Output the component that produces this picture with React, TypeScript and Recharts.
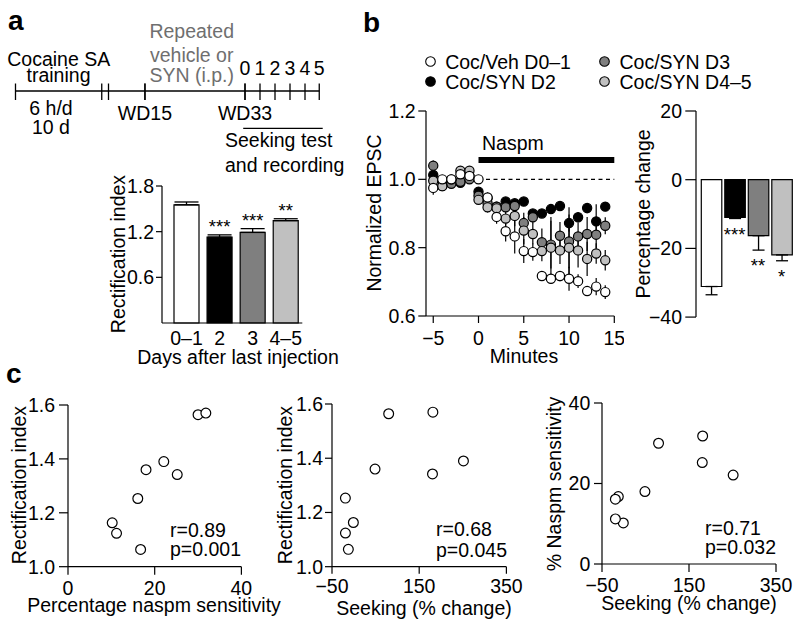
import React from "react";
import {
  ComposedChart,
  ScatterChart,
  Bar,
  Line,
  Scatter,
  XAxis,
  YAxis,
  ErrorBar,
  ReferenceLine,
  LabelList,
  Legend,
  Cell,
} from "recharts";

const FONT = "'Liberation Sans', Arial, Helvetica, sans-serif";
const FS = 19.5;
const INK = "#000";
const GREY_TEXT = "#6f6f6f";

// ---- a: schematic timeline (units = days relative to WD33)
const timelineMarks = [-15.3, -9.55, -9.1, -6.67, 0, 1, 2, 3, 4, 4.95];
const timelineTop = ["", "", "", "", "0", "1", "2", "3", "4", "5"];
const timelineBottom = ["", "", "", "WD15", "WD33", "", "", "", "", ""];
const seekingSpan = [-0.12, 5.18];

// ---- groups
const groupNames = ["Coc/Veh D0–1", "Coc/SYN D2", "Coc/SYN D3", "Coc/SYN D4–5"];
const groupFill = ["#ffffff", "#000000", "#7f7f7f", "#c0c0c0"];

// ---- a: rectification index by day
const dayCats = ["0–1", "2", "3", "4–5"];
const riMean = [1.553, 1.128, 1.19, 1.345];
const riErr = [0.037, 0.03, 0.05, 0.025];
const riSig = ["", "***", "***", "**"];

// ---- b: normalized EPSC time course
const minutes = [-5, -4, -3, -2, -1, 0, 1, 2, 3, 4, 5, 6, 7, 8, 9, 10, 11, 12, 13, 14];
const vehMean = [0.975, 1.0, 1.0, 1.015, 1.01, 1.0, 0.947, 0.89, 0.848, 0.833, 0.79, 0.787, 0.717, 0.709, 0.717, 0.709, 0.702, 0.673, 0.686, 0.67];
const vehErr = [0.02, 0.01, 0.01, 0.01, 0.01, 0.005, 0.015, 0.02, 0.03, 0.05, 0.035, 0.025, 0.01, 0.015, 0.015, 0.035, 0.02, 0.01, 0.025, 0.02];
const d2Mean = [1.013, 0.995, 0.99, 0.99, 1.01, 0.964, 0.945, 0.92, 0.935, 0.93, 0.935, 0.9, 0.9, 0.913, 0.922, 0.872, 0.889, 0.916, 0.877, 0.92];
const d2Err = [0.02, 0.01, 0.01, 0.01, 0.01, 0.01, 0.01, 0.01, 0.01, 0.01, 0.01, 0.01, 0.01, 0.01, 0.01, 0.025, 0.015, 0.015, 0.05, 0.01];
const d3Mean = [1.04, 0.98, 0.987, 0.993, 1.0, 0.952, 0.93, 0.92, 0.918, 0.922, 0.872, 0.889, 0.816, 0.809, 0.835, 0.818, 0.833, 0.84, 0.838, 0.864];
const d3Err = [0.015, 0.01, 0.01, 0.01, 0.01, 0.01, 0.01, 0.01, 0.015, 0.015, 0.03, 0.02, 0.04, 0.07, 0.04, 0.1, 0.04, 0.05, 0.04, 0.025];
const d45Mean = [0.996, 0.98, 1.0, 1.025, 1.025, 0.94, 0.918, 0.915, 0.885, 0.893, 0.85, 0.84, 0.79, 0.8, 0.792, 0.8, 0.792, 0.767, 0.783, 0.763];
const d45Err = [0.02, 0.01, 0.01, 0.01, 0.01, 0.01, 0.015, 0.015, 0.02, 0.03, 0.04, 0.03, 0.03, 0.09, 0.04, 0.06, 0.05, 0.05, 0.03, 0.03];
const naspmLevel = 1.0565;

// ---- b: percentage change
const pctMean = [-31.1, -11.0, -16.3, -21.9];
const pctErr = [2.4, 0.3, 4.2, 1.7];
const pctSig = ["", "***", "**", "*"];

// ---- c: per-animal correlations
const naspmSens = [10.2, 11.2, 16.75, 16.1, 18.0, 22.1, 25.2, 30.0, 31.8];
const rectIdx = [1.163, 1.124, 1.064, 1.253, 1.36, 1.39, 1.342, 1.564, 1.57];
const seeking = [-1, -19.2, -12.5, -19.3, 48.7, 251.5, 180.5, 80, 181.4];

const tickFont = { fontSize: FS, fill: INK, fontFamily: FONT };
const axisStroke = { stroke: INK, strokeWidth: 1.2 };
const minus = (v: number) => String(v).replace("-", "\u2212");
const oneDec = (v: number) => v.toFixed(1);

const ring = (r: number, fill: string) => (p: any) => (
  <circle cx={p.cx} cy={p.cy} r={r} fill={fill} stroke={INK} strokeWidth={1.2} />
);

function Txt({ x, y, children, anchor = "start", size = FS, weight = 400, fill = INK }: any) {
  return (
    <text x={x} y={y} textAnchor={anchor} fontSize={size} fontWeight={weight} fill={fill} fontFamily={FONT}>
      {children}
    </text>
  );
}

function VTxt({ x, y, children }: any) {
  return (
    <text
      transform={`translate(${x},${y}) rotate(-90)`}
      textAnchor="middle"
      dominantBaseline="central"
      fontSize={FS}
      fill={INK}
      fontFamily={FONT}
    >
      {children}
    </text>
  );
}

function GroupLegend() {
  const order = [0, 2, 1, 3];
  return (
    <div
      style={{
        display: "grid",
        gridTemplateColumns: "174.3px 190px",
        fontFamily: FONT,
        fontSize: FS,
        lineHeight: "20px",
        whiteSpace: "nowrap",
        color: INK,
      }}
    >
      {order.map((i) => (
        <div key={i} style={{ display: "flex", alignItems: "center", height: 20 }}>
          <svg width={11} height={11} style={{ marginRight: 9, flex: "none" }}>
            <circle cx={5.5} cy={5.5} r={4.8} fill={groupFill[i]} stroke={INK} strokeWidth={1.1} />
          </svg>
          <span>{groupNames[i]}</span>
        </div>
      ))}
    </div>
  );
}

function Timeline() {
  const line = timelineMarks.map((x) => ({ x, y: 0 }));
  const lbl = { fontSize: FS, fill: INK, fontFamily: FONT };
  return (
    <ComposedChart width={340} height={80} data={line} margin={{ top: 0, right: 0, bottom: 0, left: 0 }}>
      <XAxis dataKey="x" type="number" domain={[-16.333, 6.333]} hide />
      <YAxis type="number" domain={[-3, 2.333]} hide />
      <Line dataKey="y" stroke={INK} strokeWidth={1.3} dot={false} activeDot={false} isAnimationActive={false} />
      {timelineMarks.map((x, i) => (
        <ReferenceLine
          key={"t" + i}
          segment={[{ x, y: 0.5 }, { x, y: -0.6 }]}
          stroke={INK}
          strokeWidth={1.3}
          label={timelineTop[i] ? { value: timelineTop[i], position: "top", offset: 8, ...lbl } : undefined}
        />
      ))}
      {timelineMarks.map((x, i) =>
        timelineBottom[i] ? (
          <ReferenceLine
            key={"b" + i}
            segment={[{ x, y: 0.5 }, { x, y: -0.6 }]}
            stroke={INK}
            strokeWidth={1.3}
            label={{ value: timelineBottom[i], position: "bottom", offset: 6, ...lbl }}
          />
        ) : null
      )}
      <ReferenceLine
        segment={[{ x: seekingSpan[0], y: -2.49 }, { x: seekingSpan[1], y: -2.49 }]}
        stroke={INK}
        strokeWidth={1.2}
      />
    </ComposedChart>
  );
}

function RectBars() {
  const data = dayCats.map((c, i) => ({
    cat: c,
    v: riMean[i],
    e: [0, riErr[i]],
    top: riMean[i] + riErr[i],
    sig: riSig[i],
  }));
  return (
    <ComposedChart width={200.3} height={177} data={data} margin={{ top: 10, right: 5, bottom: 0, left: 0 }}>
      <XAxis
        dataKey="cat"
        interval={0}
        height={30}
        padding={{ left: 8, right: 0 }}
        tick={tickFont}
        tickLine={false}
        tickSize={6}
        tickMargin={2}
        axisLine={axisStroke}
      />
      <YAxis
        width={55}
        type="number"
        domain={[0, 1.8]}
        ticks={[0.6, 1.2, 1.8]}
        interval={0}
        tickFormatter={oneDec}
        tick={tickFont}
        tickLine={axisStroke}
        axisLine={axisStroke}
        tickSize={6}
        tickMargin={2}
      />
      <Bar dataKey="v" barSize={25} stroke={INK} strokeWidth={1.2} isAnimationActive={false}>
        {data.map((d, i) => (
          <Cell key={i} fill={groupFill[i]} />
        ))}
        <ErrorBar dataKey="e" direction="y" width={12} stroke={INK} strokeWidth={1.3} />
      </Bar>
      <Line dataKey="top" stroke="none" dot={false} activeDot={false} isAnimationActive={false}>
        <LabelList dataKey="sig" position="top" offset={2} style={{ fontSize: 18.5, fill: INK, fontFamily: FONT }} />
      </Line>
    </ComposedChart>
  );
}

function EpscTimeCourse() {
  const series = [
    { mean: d2Mean, err: d2Err, g: 1 },
    { mean: d3Mean, err: d3Err, g: 2 },
    { mean: d45Mean, err: d45Err, g: 3 },
    { mean: vehMean, err: vehErr, g: 0 },
  ];
  return (
    <ScatterChart width={253.3} height={316} margin={{ top: 71, right: 10, bottom: 0, left: 0 }}>
      <XAxis
        dataKey="t"
        type="number"
        domain={[-5.8, 15]}
        ticks={[-5, 0, 5, 10, 15]}
        interval={0}
        tickFormatter={minus}
        height={40}
        tick={tickFont}
        tickLine={axisStroke}
        axisLine={axisStroke}
        tickSize={7}
        tickMargin={8.3}
      />
      <YAxis
        dataKey="v"
        type="number"
        width={55}
        domain={[0.6, 1.2]}
        ticks={[0.6, 0.8, 1.0, 1.2]}
        interval={0}
        tickFormatter={oneDec}
        tick={tickFont}
        tickLine={axisStroke}
        axisLine={axisStroke}
        tickSize={7.7}
        tickMargin={2.6}
      />
      <ReferenceLine segment={[{ x: 0, y: 1 }, { x: 15, y: 1 }]} stroke={INK} strokeWidth={1.2} strokeDasharray="4 3.5" />
      <ReferenceLine
        segment={[{ x: 0, y: naspmLevel }, { x: 15, y: naspmLevel }]}
        stroke={INK}
        strokeWidth={6}
        label={(p: any) => (
          <text x={p.viewBox.x + 3.5} y={p.viewBox.y - 10} fontSize={FS} fill={INK} fontFamily={FONT}>
            Naspm
          </text>
        )}
      />
      {series.map((s) => (
        <Scatter
          key={s.g}
          name={groupNames[s.g]}
          data={minutes.map((t, i) => ({ t, v: s.mean[i], e: s.err[i] }))}
          fill={groupFill[s.g]}
          shape={ring(4.6, groupFill[s.g])}
          isAnimationActive={false}
        >
          <ErrorBar dataKey="e" direction="y" width={0} stroke={INK} strokeWidth={1.2} />
        </Scatter>
      ))}
      <Legend
        layout="horizontal"
        verticalAlign="middle"
        align="center"
        content={() => <GroupLegend />}
        wrapperStyle={{ left: 54.2, top: 11.5, width: 370 }}
      />
    </ScatterChart>
  );
}

function PctBars() {
  const data = dayCats.map((c, i) => ({
    cat: c,
    v: pctMean[i],
    e: [pctErr[i], 0],
    low: pctMean[i] - pctErr[i],
    sig: pctSig[i],
  }));
  return (
    <ComposedChart width={157.3} height={226.1} data={data} margin={{ top: 10, right: 5, bottom: 10, left: 0 }}>
      <XAxis dataKey="cat" hide padding={{ left: 3.3, right: 0 }} />
      <YAxis
        width={55}
        type="number"
        domain={[-40, 20]}
        ticks={[-40, -20, 0, 20]}
        interval={0}
        tickFormatter={minus}
        tick={tickFont}
        tickLine={axisStroke}
        axisLine={axisStroke}
        tickSize={10.7}
        tickMargin={3.3}
      />
      <Bar dataKey="v" barSize={20.5} stroke={INK} strokeWidth={1.2} isAnimationActive={false}>
        {data.map((d, i) => (
          <Cell key={i} fill={groupFill[i]} />
        ))}
        <ErrorBar dataKey="e" direction="y" width={6} stroke={INK} strokeWidth={1.3} />
      </Bar>
      <Line dataKey="low" stroke="none" dot={false} activeDot={false} isAnimationActive={false}>
        <LabelList dataKey="sig" position="bottom" offset={9} style={{ fontSize: 18.5, fill: INK, fontFamily: FONT }} />
      </Line>
    </ComposedChart>
  );
}

function Corr({ xs, ys, xDomain, xTicks, yDomain, yTicks, yFmt, plotW, plotH, yTick, yMargin, xTick, xMargin }: any) {
  const data = xs.map((x: number, i: number) => ({ x, y: ys[i] }));
  return (
    <ScatterChart width={55 + plotW + 24} height={10 + plotH + 45} margin={{ top: 10, right: 24, bottom: 0, left: 0 }}>
      <XAxis
        dataKey="x"
        type="number"
        domain={xDomain}
        ticks={xTicks}
        interval={0}
        tickFormatter={minus}
        height={45}
        tick={tickFont}
        tickLine={axisStroke}
        axisLine={axisStroke}
        tickSize={xTick}
        tickMargin={xMargin}
      />
      <YAxis
        dataKey="y"
        type="number"
        width={55}
        domain={yDomain}
        ticks={yTicks}
        interval={0}
        tickFormatter={yFmt}
        tick={tickFont}
        tickLine={axisStroke}
        axisLine={axisStroke}
        tickSize={yTick}
        tickMargin={yMargin}
      />
      <Scatter data={data} fill="#fff" shape={ring(4.9, "#fff")} isAnimationActive={false} />
    </ScatterChart>
  );
}

const at = (left: number, top: number): React.CSSProperties => ({ position: "absolute", left, top });

export default function App() {
  return (
    <div style={{ position: "absolute", left: 0, top: 0, width: 800, height: 630, background: "#fff", overflow: "hidden" }}>
      <div style={at(0, 55.7)}>
        <Timeline />
      </div>
      <div style={at(106.7, 176)}>
        <RectBars />
      </div>
      <div style={at(371, 40)}>
        <EpscTimeCourse />
      </div>
      <div style={at(640.7, 100.6)}>
        <PctBars />
      </div>
      <div style={at(13.3, 395)}>
        <Corr xs={naspmSens} ys={rectIdx} xDomain={[0, 40]} xTicks={[0, 20, 40]} yDomain={[1.0, 1.6]}
          yTicks={[1.0, 1.2, 1.4, 1.6]} yFmt={oneDec} plotW={173.4} plotH={161.7} yTick={9} yMargin={4} xTick={8} xMargin={6.5} />
      </div>
      <div style={at(277.3, 394)}>
        <Corr xs={seeking} ys={rectIdx} xDomain={[-50, 350]} xTicks={[-50, 150, 350]} yDomain={[1.0, 1.6]}
          yTicks={[1.0, 1.2, 1.4, 1.6]} yFmt={oneDec} plotW={174.4} plotH={162.7} yTick={7} yMargin={2} xTick={7} xMargin={5.5} />
      </div>
      <div style={at(546.7, 393.3)}>
        <Corr xs={seeking} ys={naspmSens} xDomain={[-50, 350]} xTicks={[-50, 150, 350]} yDomain={[0, 40]}
          yTicks={[0, 20, 40]} yFmt={minus} plotW={174} plotH={161} yTick={8} yMargin={3.7} xTick={8} xMargin={6} />
      </div>

      <svg width={800} height={630} style={{ position: "absolute", left: 0, top: 0, pointerEvents: "none" }}>
        <Txt x={8} y={30} size={28} weight={700}>a</Txt>
        <Txt x={363} y={31.5} size={28} weight={700}>b</Txt>
        <Txt x={6} y={383} size={28} weight={700}>c</Txt>

        <Txt x={58.7} y={66.2} anchor="middle">Cocaine SA</Txt>
        <Txt x={58.5} y={81.7} anchor="middle">training</Txt>
        <Txt x={51} y={115} anchor="middle">6 h/d</Txt>
        <Txt x={51} y={134} anchor="middle">10 d</Txt>
        <Txt x={191.7} y={38.3} anchor="middle" fill={GREY_TEXT}>Repeated</Txt>
        <Txt x={191.7} y={61.7} anchor="middle" fill={GREY_TEXT}>vehicle or</Txt>
        <Txt x={191.7} y={81.7} anchor="middle" fill={GREY_TEXT}>SYN (i.p.)</Txt>
        <Txt x={225} y={146.7}>Seeking test</Txt>
        <Txt x={225} y={171.7}>and recording</Txt>

        <VTxt x={118} y={254}>Rectification index</VTxt>
        <Txt x={238} y={364} anchor="middle">Days after last injection</Txt>

        <VTxt x={374} y={213}>Normalized EPSC</VTxt>
        <Txt x={524} y={362.7} anchor="middle">Minutes</Txt>
        <VTxt x={643} y={214}>Percentage change</VTxt>

        <VTxt x={19} y={485}>Rectification index</VTxt>
        <Txt x={154} y={611.5} anchor="middle">Percentage naspm sensitivity</Txt>
        <Txt x={170} y={536.7}>r=0.89</Txt>
        <Txt x={170} y={556}>p=0.001</Txt>

        <VTxt x={285} y={485}>Rectification index</VTxt>
        <Txt x={424} y={615} anchor="middle">Seeking (% change)</Txt>
        <Txt x={436} y={536}>r=0.68</Txt>
        <Txt x={436} y={556.7}>p=0.045</Txt>

        <VTxt x={554} y={484}>% Naspm sensitivity</VTxt>
        <Txt x={689} y={609.5} anchor="middle">Seeking (% change)</Txt>
        <Txt x={705} y={535}>r=0.71</Txt>
        <Txt x={705} y={554.3}>p=0.032</Txt>
      </svg>
    </div>
  );
}
